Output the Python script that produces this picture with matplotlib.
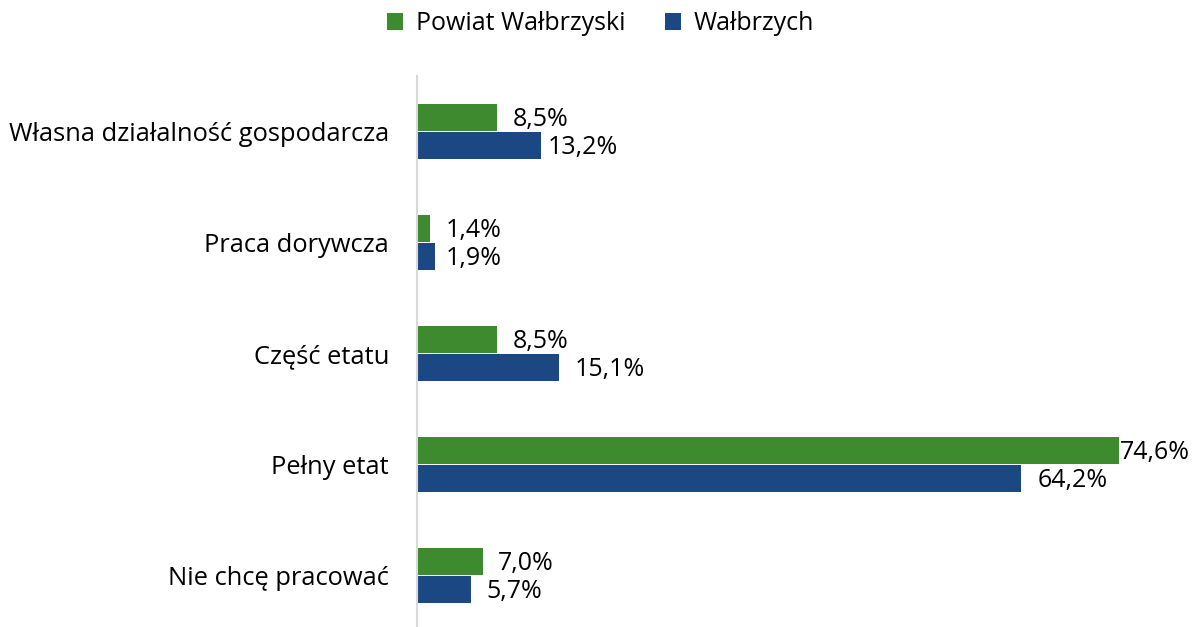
import matplotlib
matplotlib.use("Agg")
import matplotlib.pyplot as plt
import numpy as np

plt.rcParams['font.family'] = ['Open Sans', 'DejaVu Sans']

categories = ["Własna działalność gospodarcza", "Praca dorywcza", "Część etatu",
              "Pełny etat", "Nie chcę pracować"]
powiat = [8.5, 1.4, 8.5, 74.6, 7.0]
walbrzych = [13.2, 1.9, 15.1, 64.2, 5.7]
series_names = ["Powiat Wałbrzyski", "Wałbrzych"]
colors = ["#3E8A2F", "#1B4882"]

# label gap from bar end (points), Excel-like placement
gap_powiat = [11, 11, 11, 1, 11]
gap_walbrzych = [5, 8, 11, 12, 11]

W, H = 1201, 627
fig = plt.figure(figsize=(W / 100, H / 100), dpi=100)
# axes placed in pixel coords: x 417..1190, y 76..627
ax = fig.add_axes([417 / W, 0, (1190 - 417) / W, (627 - 76) / H])

y = np.arange(len(categories))
h = 0.25
for vals, gaps, off, col, name in [(powiat, gap_powiat, -h / 2, colors[0], series_names[0]),
                                   (walbrzych, gap_walbrzych, h / 2, colors[1], series_names[1])]:
    bars = ax.barh(y + off, vals, height=h * 0.98, color=col, label=name)
    for b, v, g in zip(bars, vals, gaps):
        ax.annotate(f"{v:.1f}%".replace(".", ","), (b.get_width(), b.get_y() + b.get_height() / 2),
                    xytext=(g, -1.5), textcoords="offset points", va="center", ha="left",
                    fontsize=18, color="black")

ax.set_xlim(0, (1190 - 417) / 9.41)
ax.set_ylim(551 / 111 - 0.5, -0.5)
ax.set_yticks(y)
ax.set_yticklabels(categories, fontsize=18.4)
ax.tick_params(axis="y", length=0, pad=20)
ax.set_xticks([])
for s in ["top", "right", "bottom"]:
    ax.spines[s].set_visible(False)
ax.spines["left"].set_color("#D9D9D9")
ax.spines["left"].set_linewidth(1.5)

fig.legend(loc="upper center", bbox_to_anchor=(0.5, 1.018), ncol=2, frameon=False,
           fontsize=18, handlelength=0.65, handleheight=0.65, columnspacing=1.6,
           handletextpad=0.5)

fig.savefig("out.png", dpi=100)
